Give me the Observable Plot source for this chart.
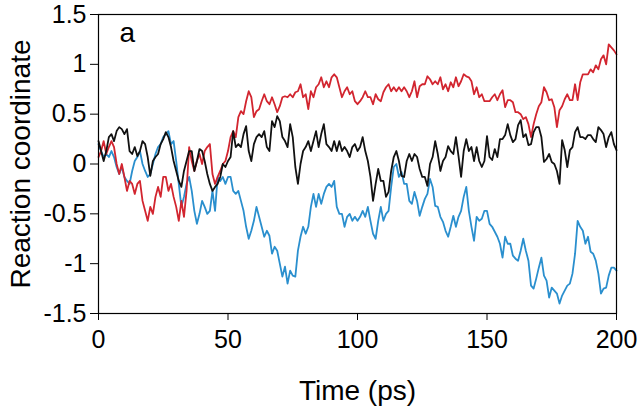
<!DOCTYPE html>
<html><head><meta charset="utf-8">
<script src="https://cdn.jsdelivr.net/npm/d3@7"></script>
<script src="https://cdn.jsdelivr.net/npm/@observablehq/plot@0.6"></script>
<style>body{margin:0;background:#fff}</style>
</head><body><div id="chart"></div>
<script>
// sample times (ps)
const time = d3.range(0, 201);
const xTicks = [0, 50, 100, 150, 200];
const yTicks = [-1.5, -1, -0.5, 0, 0.5, 1, 1.5];

const redSeries = [
  0.07, 0.13, 0.23, 0.1, 0.17, 0.23, 0.17, 0, -0.1, 0,
  -0.13, -0.27, -0.17, -0.2, -0.3, -0.2, -0.17, -0.37, -0.47, -0.57,
  -0.43, -0.5, -0.33, -0.23, -0.33, -0.13, -0.13, -0.27, -0.2, -0.33,
  -0.43, -0.57, -0.37, -0.53, -0.27, 0.17, 0.03, -0.07, 0.03, 0.1,
  0, 0.13, 0.17, 0.2, -0.1, -0.2, -0.13, -0.07, 0, 0.03,
  0.13, 0.27, 0.33, 0.27, 0.47, 0.53, 0.5, 0.63, 0.73, 0.67,
  0.47, 0.53, 0.55, 0.63, 0.7, 0.63, 0.6, 0.67, 0.6, 0.52,
  0.58, 0.67, 0.68, 0.67, 0.7, 0.67, 0.72, 0.73, 0.8, 0.67,
  0.7, 0.55, 0.73, 0.67, 0.77, 0.8, 0.87, 0.77, 0.83, 0.77,
  0.87, 0.9, 0.87, 0.77, 0.67, 0.73, 0.77, 0.7, 0.73, 0.63,
  0.6, 0.63, 0.67, 0.73, 0.67, 0.67, 0.6, 0.7, 0.65, 0.63,
  0.72, 0.77, 0.8, 0.73, 0.77, 0.73, 0.77, 0.73, 0.77, 0.73,
  0.67, 0.73, 0.83, 0.67, 0.78, 0.8, 0.8, 0.88, 0.85, 0.8,
  0.83, 0.8, 0.87, 0.75, 0.8, 0.73, 0.82, 0.77, 0.87, 0.78,
  0.83, 0.9, 0.88, 0.87, 0.83, 0.7, 0.77, 0.67, 0.7, 0.63,
  0.63, 0.63, 0.67, 0.7, 0.64, 0.7, 0.74, 0.57, 0.64, 0.64,
  0.62, 0.52, 0.52, 0.5, 0.45, 0.47, 0.4, 0.27, 0.4, 0.5,
  0.58, 0.62, 0.77, 0.72, 0.64, 0.65, 0.57, 0.37, 0.54, 0.58,
  0.65, 0.7, 0.64, 0.64, 0.8, 0.64, 0.82, 0.9, 0.9, 0.9,
  0.95, 0.92, 0.99, 0.95, 1.05, 1.09, 1.0, 1.2, 1.17, 1.14, 1.1
];

const blackSeries = [
  0.23, 0.13, 0.03, 0.13, 0.27, 0.3, 0.23, 0.33, 0.37, 0.35,
  0.3, 0.35, 0.13, 0.1, 0.17, 0.08, 0.13, 0.23, 0.2, 0.07,
  -0.12, 0.03, 0.07, 0.1, 0.2, 0.25, 0.32, 0.27, 0.17, 0.03,
  -0.07, -0.17, -0.23, -0.07, 0.03, 0.13, 0.13, -0.07, 0.03, 0.15,
  0.13, 0.03, -0.1, -0.2, -0.27, -0.23, -0.2, -0.13, 0, -0.03,
  0.03, 0.07, 0.33, 0.17, 0.2, 0.17, 0.3, 0.38, 0.13, 0.03,
  0.2, 0.27, 0.3, 0.27, 0.33, 0.17, 0.13, 0.43, 0.37, 0.48,
  0.43, 0.27, 0.23, 0.17, 0.4, 0.27, -0.03, -0.2, 0, 0.13,
  0.17, 0.23, 0.13, 0.23, 0.33, 0.17, 0.3, 0.4, 0.2, 0.17,
  0.13, 0.23, 0.13, 0.23, 0.13, 0.17, 0.13, 0.07, 0.17, 0.2,
  0.13, 0.17, 0.27, 0.13, 0.03, -0.13, -0.37, -0.2, -0.05, -0.17,
  -0.17, -0.33, -0.28, -0.07, 0.07, 0.13, 0.03, -0.12, -0.13, 0.03,
  0.1, 0.03, 0.1, 0.07, -0.05, -0.13, -0.13, -0.22, 0, 0.07,
  0.23, 0.1, -0.07, 0.03, 0.07, 0.18, 0.13, 0.1, 0.27, 0.08,
  -0.13, 0.13, 0.25, 0.13, 0.17, 0.03, 0.17, 0.03, -0.03, 0.03,
  0.28, 0.07, 0.04, 0.15, 0.07, 0.25, 0.25, 0.29, 0.4, 0.29,
  0.22, 0.25, 0.39, 0.44, 0.27, 0.3, 0.19, 0.2, 0.32, 0.37,
  0.37, 0.27, 0.02, 0.05, 0.1, 0.02, 0, -0.07, -0.2, 0.24,
  0.14, -0.03, 0.14, 0.17, 0.32, 0.37, 0.27, 0.27, 0.25, 0.29,
  0.29, 0.25, 0.22, 0.37, 0.34, 0.3, 0.17, 0.27, 0.32, 0.2, 0.14
];

const blueSeries = [
  0.2, 0.13, 0.07, 0.1, 0.07, 0.13, 0.07, -0.03, -0.1, -0.03,
  -0.13, -0.17, -0.2, -0.07, 0.03, 0.07, 0.13, 0, -0.07, -0.13,
  -0.1, 0, 0.1, 0.17, 0.2, 0.27, 0.3, 0.33, 0.2, 0.23,
  0.03, -0.2, -0.43, -0.33, -0.2, -0.13, -0.27, -0.47, -0.6, -0.5,
  -0.37, -0.43, -0.5, -0.47, -0.27, -0.47, -0.13, -0.17, -0.13, -0.2,
  -0.13, -0.13, -0.27, -0.3, -0.27, -0.37, -0.47, -0.63, -0.75, -0.67,
  -0.57, -0.43, -0.53, -0.63, -0.73, -0.67, -0.72, -0.9, -0.83, -0.87,
  -1.0, -1.13, -1.03, -1.2, -1.07, -1.12, -1.13, -0.87, -0.73, -0.63,
  -0.7, -0.63, -0.43, -0.3, -0.43, -0.3, -0.4, -0.3, -0.23, -0.2,
  -0.23, -0.17, -0.43, -0.5, -0.5, -0.63, -0.53, -0.5, -0.57, -0.53,
  -0.57, -0.53, -0.47, -0.53, -0.43, -0.57, -0.7, -0.75, -0.57, -0.43,
  -0.57, -0.5, -0.47, -0.23, -0.03, 0, -0.13, -0.08, -0.2, -0.2,
  -0.37, -0.4, -0.28, -0.37, -0.52, -0.43, -0.35, -0.3, -0.15, -0.23,
  -0.42, -0.43, -0.53, -0.58, -0.67, -0.73, -0.63, -0.52, -0.63, -0.53,
  -0.47, -0.33, -0.23, -0.47, -0.63, -0.77, -0.53, -0.57, -0.55, -0.47,
  -0.47, -0.6, -0.63, -0.68, -0.73, -0.8, -0.94, -0.73, -0.8, -0.8,
  -0.92, -0.95, -0.97, -0.87, -0.75, -0.87, -0.97, -1.22, -1.25, -1.15,
  -1.04, -0.94, -1.12, -1.17, -1.34, -1.24, -1.27, -1.3, -1.4, -1.32,
  -1.27, -1.22, -1.2, -1.1, -0.9, -0.57, -0.63, -0.67, -0.8, -0.73,
  -0.88, -0.9, -0.97, -1.1, -1.3, -1.25, -1.24, -1.12, -1.04, -1.04, -1.07
];

const seriesNames = ["trajectory 3", "trajectory 1", "trajectory 2"];
const seriesColors = ["#2a8fce", "#d2252f", "#111111"];
const seriesValues = [blueSeries, redSeries, blackSeries];

const data = seriesNames.flatMap((name, k) =>
  seriesValues[k].map((v, i) => ({t: time[i], v, name})));

const fmt = d => String(d);
const font = "'Liberation Sans', Arial, Helvetica, sans-serif";

const chart = Plot.plot({
  width: 640,
  height: 406,
  marginLeft: 98,
  marginRight: 24,
  marginTop: 14,
  marginBottom: 93,
  style: {fontFamily: font, background: "#fff", color: "#000"},
  x: {domain: [0, 200]},
  y: {domain: [-1.5, 1.5]},
  color: {type: "ordinal", domain: seriesNames, range: seriesColors},
  marks: [
    Plot.line(data, {x: "t", y: "v", z: "name", stroke: "name", strokeWidth: 1.8, strokeLinejoin: "round"}),
    Plot.frame({stroke: "#000", strokeWidth: 1.2}),
    Plot.axisX({ticks: xTicks, tickFormat: fmt, tickSize: 7, tickPadding: 10, fontSize: 25, label: null, stroke: "#000", fill: "#000"}),
    Plot.axisY({ticks: yTicks, tickFormat: fmt, tickSize: 8, tickPadding: 4, fontSize: 25, label: null, stroke: "#000", fill: "#000"}),
    Plot.text(["Time (ps)"], {frameAnchor: "bottom", dy: 78, fontSize: 28, textAnchor: "middle", lineAnchor: "middle", fill: "#000"}),
    Plot.text(["Reaction coordinate"], {frameAnchor: "left", dx: -77, rotate: -90, fontSize: 28, textAnchor: "middle", lineAnchor: "middle", fill: "#000"}),
    Plot.text(["a"], {frameAnchor: "top-left", dx: 21, dy: 19, fontSize: 28, textAnchor: "start", lineAnchor: "middle", fill: "#000"})
  ]
});
document.getElementById("chart").appendChild(chart);
</script>
</body></html>
